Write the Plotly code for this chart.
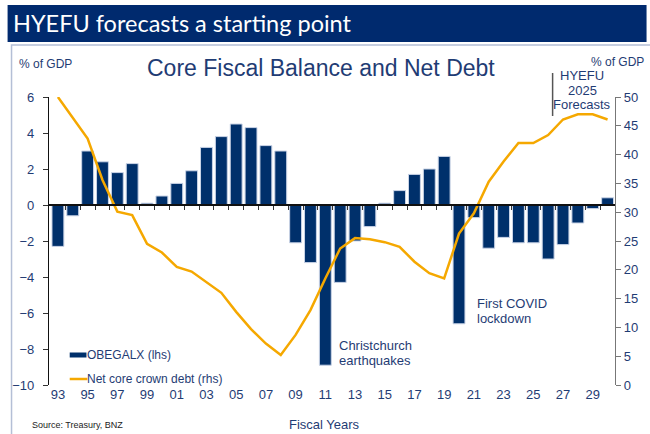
import plotly.graph_objects as go

# Fiscal years (ending June)
years = list(range(1993, 2031))

# Core operating balance before gains and losses, % of GDP (lhs)
obegalx = [-2.3, -0.6, 3.0, 2.4, 1.8, 2.3, 0.1, 0.5, 1.2, 1.9,
           3.2, 3.8, 4.5, 4.3, 3.3, 3.0, -2.1, -3.2, -8.9, -4.3,
           -2.0, -1.2, 0.1, 0.8, 1.7, 2.0, 2.7, -6.6, -0.7, -2.4,
           -1.8, -2.1, -2.1, -3.0, -2.2, -1.0, -0.2, 0.4]

# Net core crown debt, % of GDP (rhs)
net_debt = [50.0, 46.3, 42.8, 35.6, 30.1, 29.5, 24.5, 23.0, 20.5, 19.7,
            17.9, 16.0, 12.7, 9.7, 7.2, 5.2, 8.7, 13.0, 18.5, 23.7,
            25.5, 25.3, 24.8, 24.0, 21.4, 19.4, 18.5, 26.3, 29.8, 35.3,
            38.8, 42.0, 42.0, 43.4, 46.1, 47.0, 47.0, 46.1]

tick_years = list(range(1993, 2031, 2))
tick_text = [f"{y % 100:02d}" for y in tick_years]

series_names = ["OBEGALX (lhs)", "Net core crown debt (rhs)"]
forecast_marker = 2026.3

W, H = 650, 434
ML, MR, MT, MB = 46, 30, 97, 49
PW, PH = W - ML - MR, H - MT - MB

NAVY = "#002A6E"
BAR = "#00306B"
TEXT = "#1F3C74"
ORANGE = "#F5A800"
FONT = "Liberation Sans, Arial, sans-serif"


def px_x(p):
    return (p - ML) / PW


def px_y(p):
    return (H - MB - p) / PH


fig = go.Figure()

fig.add_trace(go.Bar(
    x=years, y=obegalx, name=series_names[0],
    marker=dict(color=BAR, line=dict(color="#C9D3E6", width=1)),
    width=0.8, xaxis="x", yaxis="y", showlegend=False,
))

fig.add_trace(go.Scatter(
    x=years, y=net_debt, name=series_names[1],
    mode="lines", line=dict(color=ORANGE, width=2.5),
    xaxis="x", yaxis="y2", showlegend=False,
))

xrange = [1992.4, 2030.5]

# Invisible trace so the zero-line axis is rendered
fig.add_trace(go.Scatter(x=[xrange[0]], y=[0], xaxis="x2", yaxis="y",
                         mode="markers", marker=dict(opacity=0),
                         showlegend=False, hoverinfo="skip"))

fig.update_layout(
    width=W, height=H,
    margin=dict(l=ML, r=MR, t=MT, b=MB, pad=0),
    paper_bgcolor="white", plot_bgcolor="white",
    font=dict(family=FONT, color=TEXT, size=13),
    showlegend=False,
    xaxis=dict(
        range=xrange, tickmode="array", tickvals=tick_years, ticktext=tick_text,
        showgrid=False, zeroline=False, showline=False, ticks="",
        tickfont=dict(size=13, color=TEXT),
    ),
    xaxis2=dict(
        range=xrange, overlaying="x", anchor="free", position=10 / 16,
        side="bottom", showline=True, linecolor="#111", linewidth=1.5,
        ticks="outside", ticklen=4, tickcolor="#333", tickwidth=1,
        tickmode="array", tickvals=[y + 0.5 for y in years[:-1]],
        showticklabels=False, showgrid=False, zeroline=False,
    ),
    yaxis=dict(
        range=[-10, 6], dtick=2, showgrid=False, zeroline=False,
        showline=True, linecolor="#111", linewidth=1.2,
        ticks="outside", ticklen=5, tickcolor="#333",
        tickfont=dict(size=13, color=TEXT), ticklabelstandoff=6,
    ),
    yaxis2=dict(
        range=[0, 50], dtick=5, overlaying="y", side="right",
        showgrid=False, zeroline=False,
        showline=True, linecolor="#777", linewidth=1.2,
        ticks="outside", ticklen=5, tickcolor="#777",
        tickfont=dict(size=13, color=TEXT),
    ),
)

shapes = [
    # header band
    dict(type="rect", xref="paper", yref="paper",
         x0=px_x(4), x1=px_x(652), y0=px_y(42), y1=px_y(5),
         fillcolor=NAVY, line=dict(width=0), layer="below"),
    # chart frame
    dict(type="rect", xref="paper", yref="paper",
         x0=px_x(8), x1=px_x(660), y0=px_y(440), y1=px_y(45),
         fillcolor="rgba(0,0,0,0)", line=dict(color="#B4BFD6", width=1.5),
         layer="below"),
    # forecast divider
    dict(type="line", xref="x", yref="paper",
         x0=forecast_marker, x1=forecast_marker, y0=px_y(116), y1=px_y(73),
         line=dict(color="#555", width=1.5)),
    # legend keys
    dict(type="line", xref="paper", yref="paper",
         x0=px_x(67), x1=px_x(84), y0=px_y(355), y1=px_y(355),
         line=dict(color=BAR, width=5)),
    dict(type="line", xref="paper", yref="paper",
         x0=px_x(67), x1=px_x(85), y0=px_y(379), y1=px_y(379),
         line=dict(color=ORANGE, width=2.5)),
]
fig.update_layout(shapes=shapes)


def label(text, x, y, xanchor="left", size=13, color=TEXT, family=FONT):
    return dict(text=text, x=px_x(x), y=px_y(y), xanchor=xanchor,
                yanchor="middle", align=xanchor if xanchor != "center" else "center",
                font=dict(family=family, size=size, color=color),
                xref="paper", yref="paper", showarrow=False,
                borderpad=0)


ann = [
    label("HYEFU forecasts a starting point", 8, 23, size=23.5, color="white",
          family="Lato, Open Sans, sans-serif"),
    label("Core Fiscal Balance and Net Debt", 322, 68, xanchor="center", size=23),
    label("% of GDP", 15, 64, size=12),
    label("% of GDP", 650, 62, xanchor="right", size=12),
    label("HYEFU", 587, 75, xanchor="center"),
    label("2025", 587, 90, xanchor="center"),
    label("Forecasts", 587, 104, xanchor="center"),
    label("Christchurch", 339, 345),
    label("earthquakes", 339, 360),
    label("First COVID", 479, 303),
    label("lockdown", 479, 318),
    label(series_names[0], 84, 355, size=12),
    label(series_names[1], 84, 379, size=12),
    label("Fiscal Years", 325, 424, xanchor="center"),
    label("Source: Treasury, BNZ", 28, 425, size=9, color="#222"),
]
fig.update_layout(annotations=ann)

fig.write_html("out.html")
